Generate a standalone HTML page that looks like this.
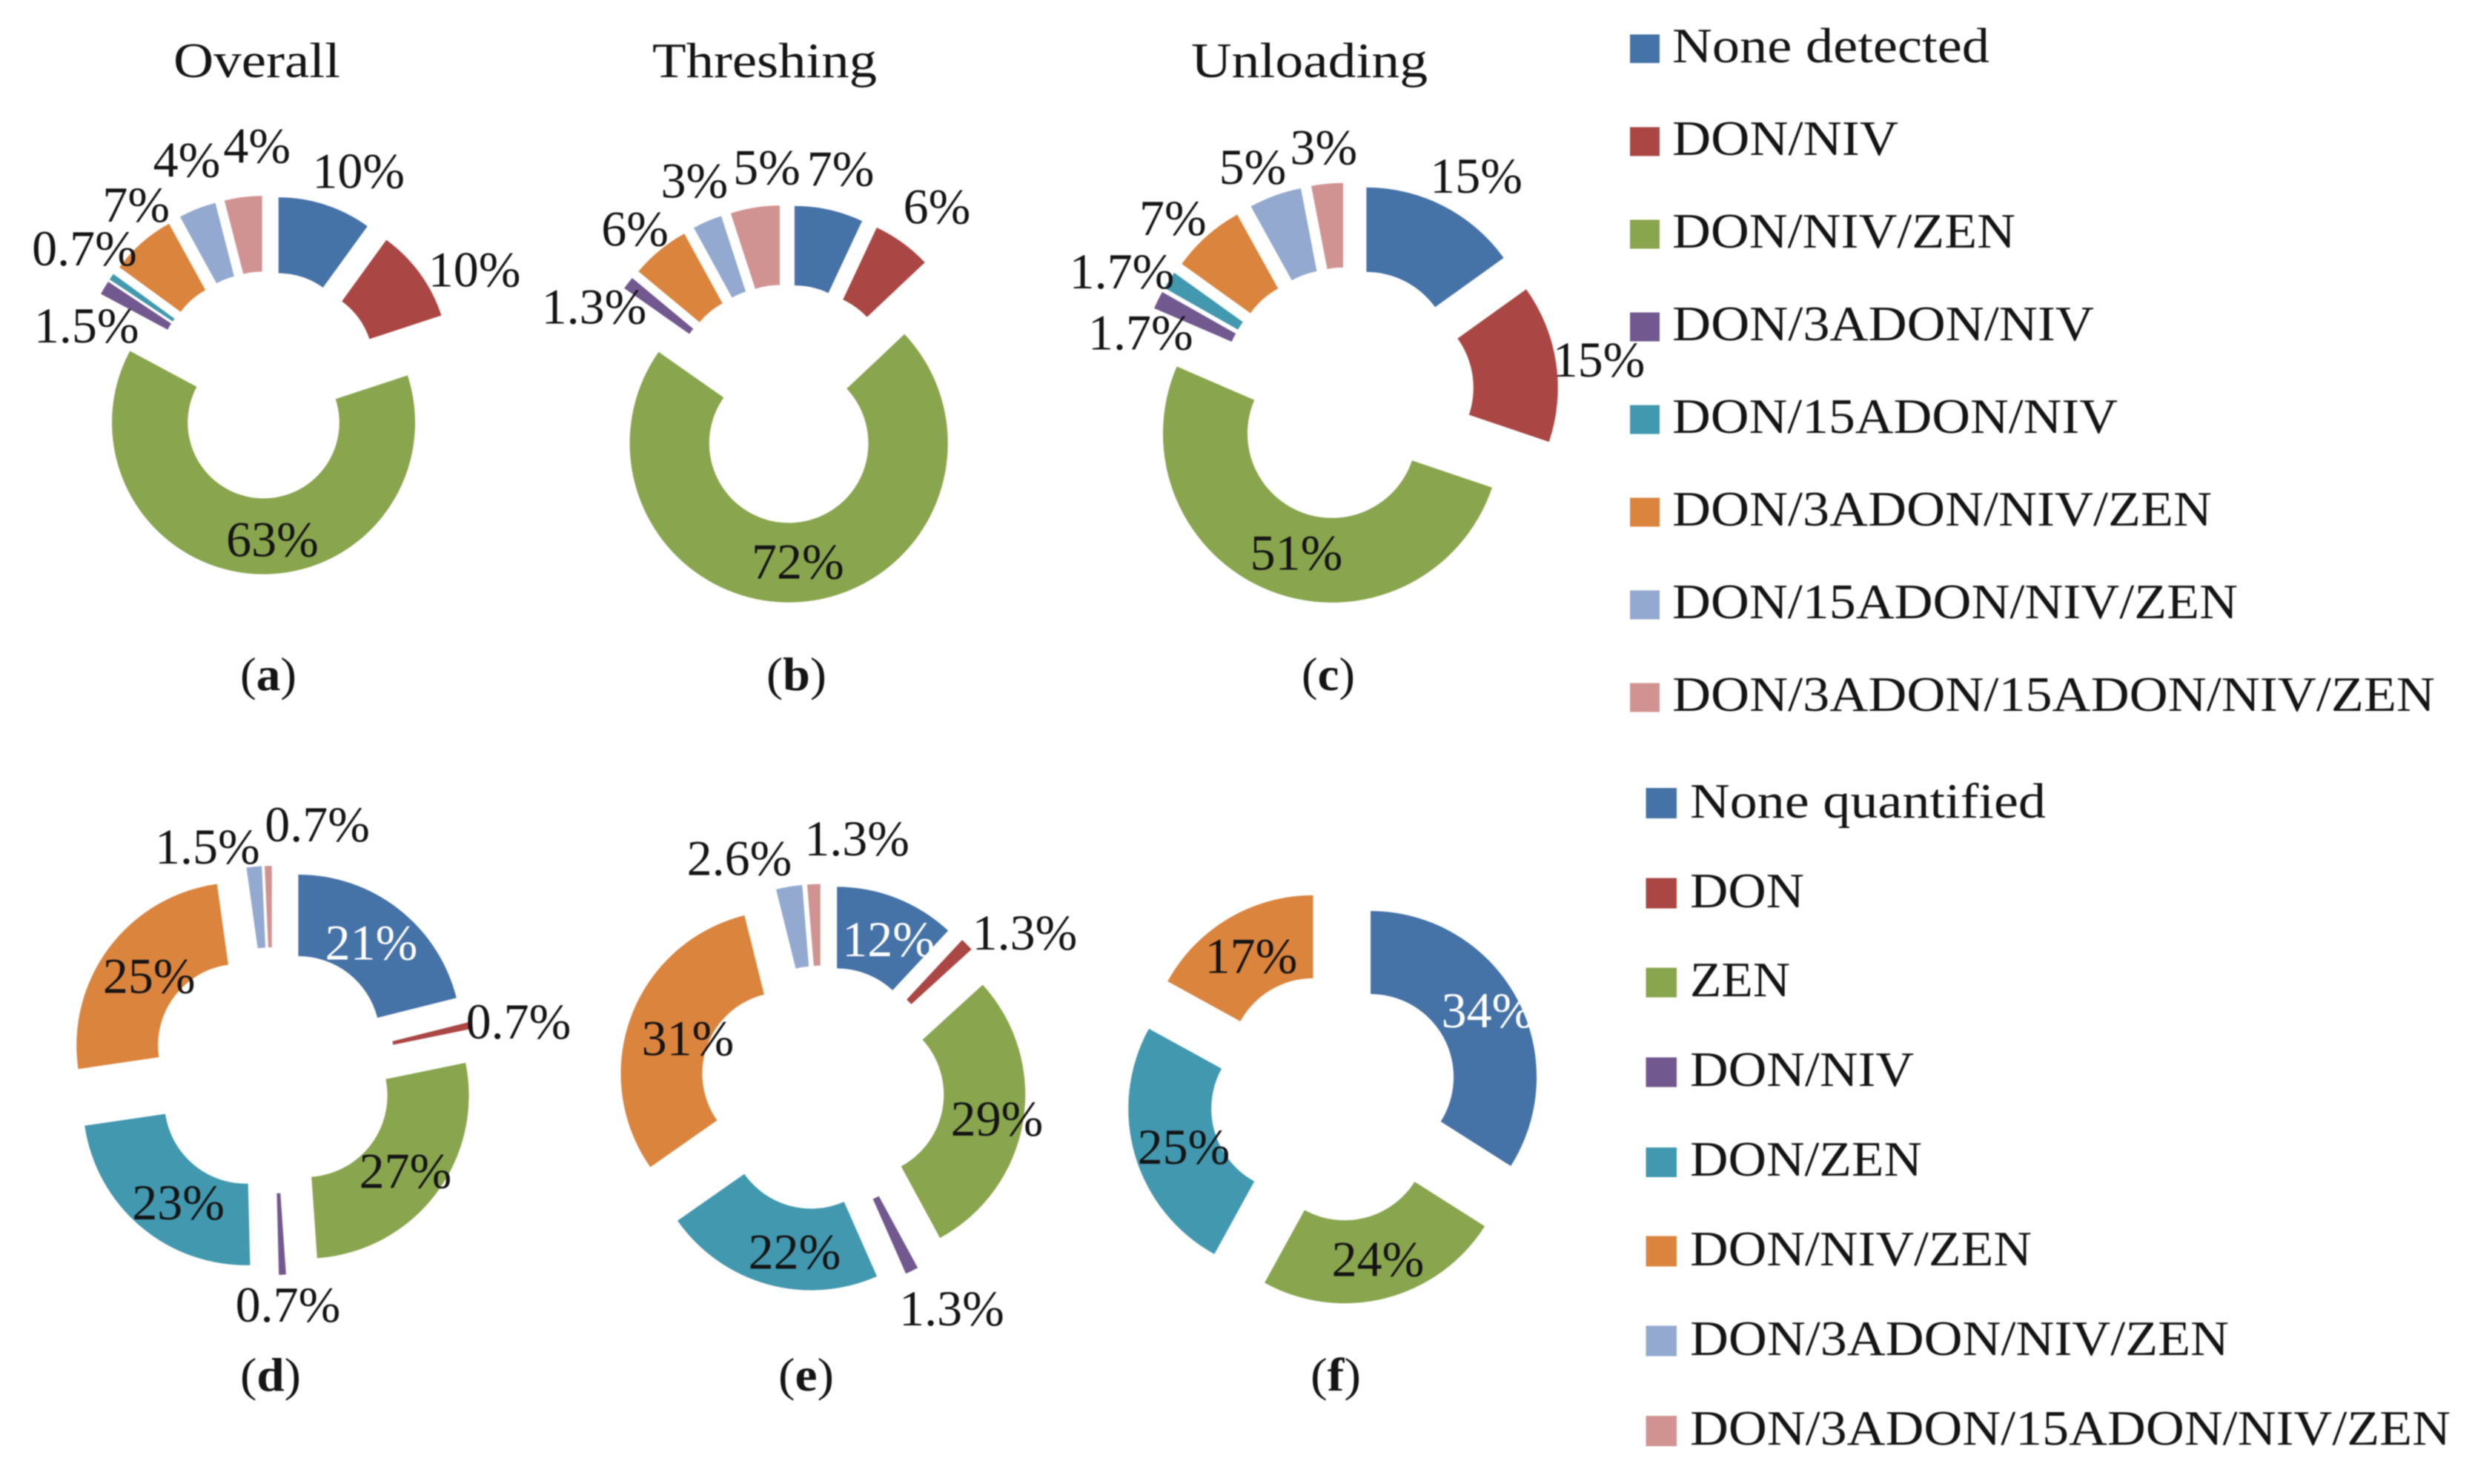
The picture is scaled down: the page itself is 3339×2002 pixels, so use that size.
<!DOCTYPE html>
<html lang="en">
<head>
<meta charset="utf-8">
<title>Mycotoxin co-occurrence donut charts</title>
<style>
  html, body { margin: 0; padding: 0; background: #ffffff; }
  #figure { display: block; width: 3339px; height: 2002px; filter: blur(0.8px); }
  text { font-family: "Liberation Serif", "DejaVu Serif", serif; fill: #141414; }
  .data-label { font-size: 68px; text-anchor: middle; }
  .title { font-size: 67px; }
  .legend-text { font-size: 67px; }
  .panel-letter { font-size: 63px; }
</style>
</head>
<body>
<svg id="figure" xmlns="http://www.w3.org/2000/svg" width="3339" height="2002" viewBox="0 0 3339 2002">
  <rect x="0" y="0" width="3339" height="2002" fill="#ffffff"/>

  <text class="title" x="234" y="104" textLength="225" lengthAdjust="spacingAndGlyphs">Overall</text>
  <text class="title" x="880" y="104" textLength="303" lengthAdjust="spacingAndGlyphs">Threshing</text>
  <text class="title" x="1607" y="104" textLength="319" lengthAdjust="spacingAndGlyphs">Unloading</text>

  <text class="panel-letter" x="324" y="931" textLength="76" lengthAdjust="spacingAndGlyphs">(<tspan font-weight="bold">a</tspan>)</text>
  <text class="panel-letter" x="1034" y="931" textLength="81" lengthAdjust="spacingAndGlyphs">(<tspan font-weight="bold">b</tspan>)</text>
  <text class="panel-letter" x="1756" y="931" textLength="72" lengthAdjust="spacingAndGlyphs">(<tspan font-weight="bold">c</tspan>)</text>
  <text class="panel-letter" x="324" y="1876" textLength="82" lengthAdjust="spacingAndGlyphs">(<tspan font-weight="bold">d</tspan>)</text>
  <text class="panel-letter" x="1050" y="1876" textLength="75" lengthAdjust="spacingAndGlyphs">(<tspan font-weight="bold">e</tspan>)</text>
  <text class="panel-letter" x="1768" y="1876" textLength="68" lengthAdjust="spacingAndGlyphs">(<tspan font-weight="bold">f</tspan>)</text>

  <g>
    <g><rect x="2199" y="46.5" width="40" height="38.5" fill="#4572A7"/><text class="legend-text" x="2256" y="84" textLength="428" lengthAdjust="spacingAndGlyphs">None detected</text></g>
    <g><rect x="2199" y="171.5" width="40" height="39" fill="#AA4643"/><text class="legend-text" x="2256" y="209" textLength="305" lengthAdjust="spacingAndGlyphs">DON/NIV</text></g>
    <g><rect x="2199" y="296.5" width="40" height="39" fill="#89A54E"/><text class="legend-text" x="2256" y="334" textLength="463" lengthAdjust="spacingAndGlyphs">DON/NIV/ZEN</text></g>
    <g><rect x="2199" y="421.5" width="40" height="39" fill="#71588F"/><text class="legend-text" x="2256" y="459" textLength="569" lengthAdjust="spacingAndGlyphs">DON/3ADON/NIV</text></g>
    <g><rect x="2199" y="546.5" width="40" height="39" fill="#4198AF"/><text class="legend-text" x="2256" y="584" textLength="601" lengthAdjust="spacingAndGlyphs">DON/15ADON/NIV</text></g>
    <g><rect x="2199" y="671.5" width="40" height="39" fill="#DB843D"/><text class="legend-text" x="2256" y="709" textLength="728" lengthAdjust="spacingAndGlyphs">DON/3ADON/NIV/ZEN</text></g>
    <g><rect x="2199" y="796.5" width="40" height="39" fill="#93A9CF"/><text class="legend-text" x="2256" y="834" textLength="763" lengthAdjust="spacingAndGlyphs">DON/15ADON/NIV/ZEN</text></g>
    <g><rect x="2199" y="921.5" width="40" height="39" fill="#D19392"/><text class="legend-text" x="2256" y="959" textLength="1029" lengthAdjust="spacingAndGlyphs">DON/3ADON/15ADON/NIV/ZEN</text></g>
  </g>

  <g>
    <g><rect x="2220.5" y="1063" width="41.5" height="41" fill="#4572A7"/><text class="legend-text" x="2280" y="1103" textLength="480" lengthAdjust="spacingAndGlyphs">None quantified</text></g>
    <g><rect x="2220.5" y="1184.5" width="41.5" height="41" fill="#AA4643"/><text class="legend-text" x="2280" y="1224" textLength="154" lengthAdjust="spacingAndGlyphs">DON</text></g>
    <g><rect x="2220.5" y="1305.5" width="41.5" height="40" fill="#89A54E"/><text class="legend-text" x="2280" y="1344" textLength="135" lengthAdjust="spacingAndGlyphs">ZEN</text></g>
    <g><rect x="2220.5" y="1426.5" width="41.5" height="40" fill="#71588F"/><text class="legend-text" x="2280" y="1465" textLength="302" lengthAdjust="spacingAndGlyphs">DON/NIV</text></g>
    <g><rect x="2220.5" y="1548" width="41.5" height="40" fill="#4198AF"/><text class="legend-text" x="2280" y="1586" textLength="313" lengthAdjust="spacingAndGlyphs">DON/ZEN</text></g>
    <g><rect x="2220.5" y="1667.5" width="41.5" height="41" fill="#DB843D"/><text class="legend-text" x="2280" y="1707" textLength="461" lengthAdjust="spacingAndGlyphs">DON/NIV/ZEN</text></g>
    <g><rect x="2220.5" y="1788.5" width="41.5" height="41" fill="#93A9CF"/><text class="legend-text" x="2280" y="1828" textLength="727" lengthAdjust="spacingAndGlyphs">DON/3ADON/NIV/ZEN</text></g>
    <g><rect x="2220.5" y="1910" width="41.5" height="41" fill="#D19392"/><text class="legend-text" x="2280" y="1949" textLength="1026" lengthAdjust="spacingAndGlyphs">DON/3ADON/15ADON/NIV/ZEN</text></g>
  </g>

  <g id="donuts"></g>
</svg>

<script>
// ---- Data: percentages, in legend order ----
const detectedCategories = ["None detected", "DON/NIV", "DON/NIV/ZEN", "DON/3ADON/NIV", "DON/15ADON/NIV", "DON/3ADON/NIV/ZEN", "DON/15ADON/NIV/ZEN", "DON/3ADON/15ADON/NIV/ZEN"];
const quantifiedCategories = ["None quantified", "DON", "ZEN", "DON/NIV", "DON/ZEN", "DON/NIV/ZEN", "DON/3ADON/NIV/ZEN", "DON/3ADON/15ADON/NIV/ZEN"];

const overallDetected = [10, 10, 63, 1.5, 0.7, 7, 4, 4];
const threshingDetected = [7, 6, 72, 1.3, 0, 6, 3, 5];
const unloadingDetected = [15, 15, 51, 1.7, 1.7, 7, 5, 3];
const overallQuantified = [21, 0.7, 27, 0.7, 23, 25, 1.5, 0.7];
const threshingQuantified = [12, 1.3, 29, 1.3, 22, 31, 2.6, 1.3];
const unloadingQuantified = [34, 0, 24, 0, 25, 17, 0, 0];

// ---- Styling and layout (not data) ----
const sliceColors = ["#4572A7", "#AA4643", "#89A54E", "#71588F", "#4198AF", "#DB843D", "#93A9CF", "#D19392"];

const panelLayouts = [
  { id: "overall-detected", values: overallDetected, categories: detectedCategories, cx: 360, cy: 519.3, r: 204.5, explode: 51,
    nudges: [[60.7,-71.4],[115,-12.5],[25.4,27.7],[-67.9,47.8],[-78.3,-44.6],[-41.4,-66.7],[-33,-90.7],[12.3,-96.9]] },
  { id: "threshing-detected", values: threshingDetected, categories: detectedCategories, cx: 1060.3, cy: 544.7, r: 214.6, explode: 53.5,
    nudges: [[27.2,-84.9],[77.9,-69.5],[0.6,21.9],[-88.5,21.9],[0,0],[-67.3,-47.8],[-38.6,-81.4],[7.6,-84.3]] },
  { id: "unloading-detected", values: unloadingDetected, categories: detectedCategories, cx: 1817.4, cy: 531.6, r: 228, explode: 57,
    nudges: [[70.1,-68.8],[114.1,10.1],[13.3,24],[-74.4,41.6],[-111.8,-19.8],[-83.6,-44.1],[-49.8,-69.2],[-10,-82.9]] },
  { id: "overall-quantified", values: overallQuantified, categories: quantifiedCategories, cx: 368, cy: 1444, r: 220, explode: 56,
    nudges: [[-3,25],[116,6],[3,25],[10,118],[15,32],[10,28],[-68,-59],[65,-88]] },
  { id: "threshing-quantified", values: threshingQuantified, categories: quantifiedCategories, cx: 1109, cy: 1467.6, r: 220, explode: 55,
    nudges: [[9,27],[117,-32],[19,28],[78,123],[22,32],[25,33],[-76,-70],[56,-94]] },
  { id: "unloading-quantified", values: unloadingQuantified, categories: quantifiedCategories, cx: 1800, cy: 1480, r: 224, explode: 56,
    nudges: [[10.7,13.9],[0,0],[3.3,24.6],[0,0],[12.1,27.5],[2,25.3],[0,0],[0,0]] }
];

const whiteLabelKeys = ["overall-quantified:0", "threshing-quantified:0", "unloading-quantified:0"];
const SVG_NS = "http://www.w3.org/2000/svg";

function angleScale(values) {
  const total = values.reduce((sum, v) => sum + v, 0);
  return v => (v / total) * 2 * Math.PI;
}

function polarX(cx, radius, angle) { return cx + radius * Math.sin(angle); }
function polarY(cy, radius, angle) { return cy - radius * Math.cos(angle); }

function ringSlicePath(cx, cy, outer, inner, a0, a1) {
  const large = a1 - a0 > Math.PI ? 1 : 0;
  return [
    "M", polarX(cx, outer, a0).toFixed(2), polarY(cy, outer, a0).toFixed(2),
    "A", outer, outer, 0, large, 1, polarX(cx, outer, a1).toFixed(2), polarY(cy, outer, a1).toFixed(2),
    "L", polarX(cx, inner, a1).toFixed(2), polarY(cy, inner, a1).toFixed(2),
    "A", inner, inner, 0, large, 0, polarX(cx, inner, a0).toFixed(2), polarY(cy, inner, a0).toFixed(2),
    "Z"
  ].join(" ");
}

const donutRoot = document.getElementById("donuts");

panelLayouts.forEach(panel => {
  const toAngle = angleScale(panel.values);
  const group = document.createElementNS(SVG_NS, "g");
  
  
  donutRoot.appendChild(group);

  const labelGroup = document.createElementNS(SVG_NS, "g");
  let cumulative = 0;

  panel.values.forEach((value, i) => {
    const a0 = cumulative;
    const a1 = cumulative + toAngle(value);
    cumulative = a1;
    if (value <= 0) return;

    const mid = (a0 + a1) / 2;
    const apexX = polarX(panel.cx, panel.explode, mid);
    const apexY = polarY(panel.cy, panel.explode, mid);

    const slice = document.createElementNS(SVG_NS, "path");
    slice.setAttribute("d", ringSlicePath(apexX, apexY, panel.r, panel.r / 2, a0, a1));
    slice.setAttribute("fill", sliceColors[i]);
    
    
    const tip = document.createElementNS(SVG_NS, "title");
    tip.textContent = panel.categories[i];
    slice.appendChild(tip);
    group.appendChild(slice);

    const ringRadius = panel.explode + 0.75 * panel.r;
    const label = document.createElementNS(SVG_NS, "text");
    label.setAttribute("class", "data-label");
    label.setAttribute("x", (polarX(panel.cx, ringRadius, mid) + panel.nudges[i][0]).toFixed(1));
    label.setAttribute("y", (polarY(panel.cy, ringRadius, mid) + panel.nudges[i][1]).toFixed(1));
    if (whiteLabelKeys.includes(panel.id + ":" + i)) label.style.fill = "#ffffff";
    
    
    label.textContent = value + "%";
    labelGroup.appendChild(label);
  });

  
  
  group.appendChild(labelGroup);
});
</script>
</body>
</html>
